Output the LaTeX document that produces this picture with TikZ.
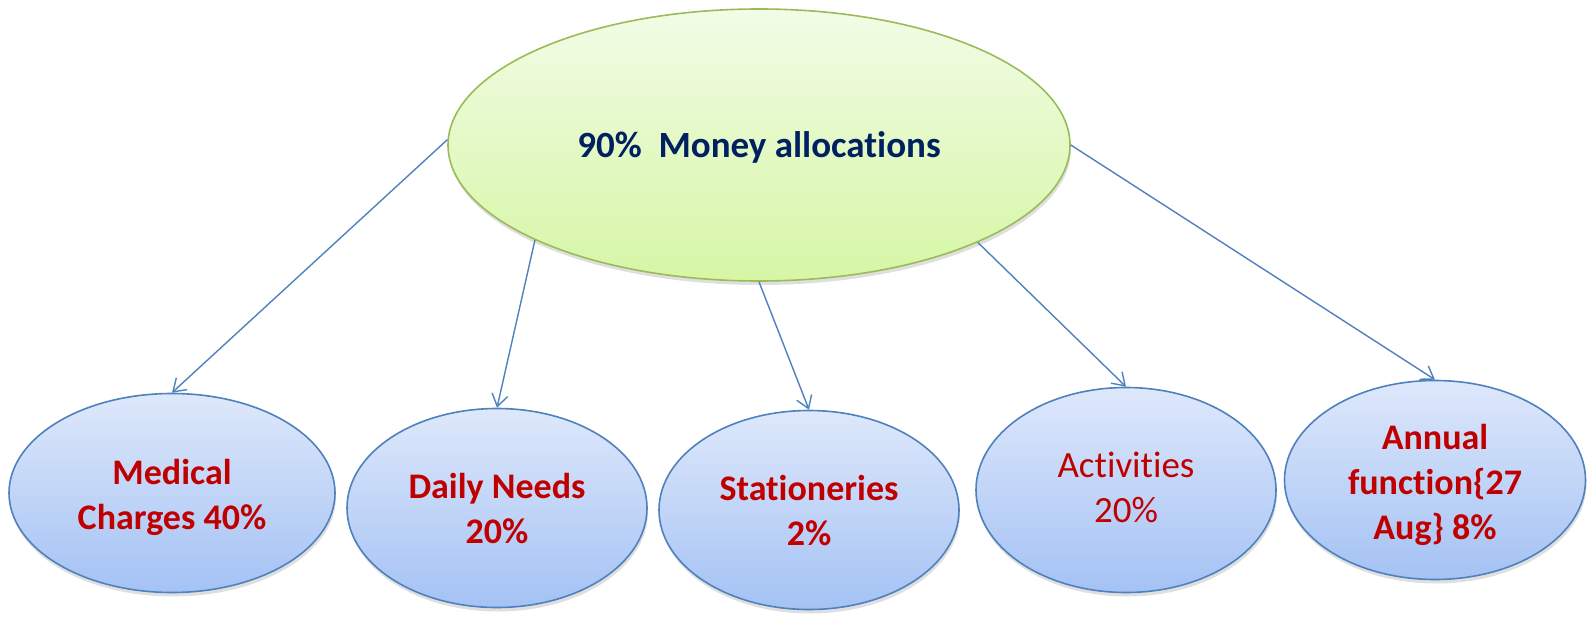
\documentclass[tikz,border=0pt]{standalone}
\usepackage{fontspec}
\setmainfont{Carlito}[Ligatures=NoCommon]
\usetikzlibrary{shapes.geometric,arrows.meta,shadows}
\definecolor{topfillA}{RGB}{242,252,230}
\definecolor{topfillB}{RGB}{214,246,165}
\definecolor{topline}{RGB}{155,187,89}
\definecolor{botfillA}{RGB}{222,232,251}
\definecolor{botfillB}{RGB}{164,194,244}
\definecolor{botline}{RGB}{79,129,189}
\definecolor{navytext}{RGB}{0,32,96}
\definecolor{redtext}{RGB}{192,0,0}
\newcommand\lowtxt[2][4pt]{\raisebox{-#1}[\height][\depth]{\begin{tabular}{@{}c@{}}#2\end{tabular}}}
\tikzset{
  topnode/.style={ellipse, draw=topline, line width=1.6pt, top color=topfillA, bottom color=topfillB,
    minimum width=622pt, minimum height=272pt, inner sep=0pt,
    drop shadow={shadow xshift=1pt, shadow yshift=-4pt, opacity=0.25},
    text=navytext, font=\fontsize{37}{45}\selectfont\bfseries},
  leaf/.style={ellipse, draw=botline, line width=1.6pt, top color=botfillA, bottom color=botfillB,
    inner sep=0pt,
    drop shadow={shadow xshift=1pt, shadow yshift=-4pt, opacity=0.25},
    text=redtext, font=\fontsize{36}{45}\selectfont\bfseries},
  conn/.style={draw=botline, line width=1.4pt, -{Straight Barb[length=12pt,width=16pt,line width=1.4pt]}}
}
\begin{document}
\begin{tikzpicture}[x=1pt,y=-1pt]
\useasboundingbox (0,0) rectangle (1593,618);
\node[topnode] (top) at (759,145) {\lowtxt[3pt]{90\%\ \ Money allocations}};
\node[leaf, minimum width=326pt, minimum height=199pt] (med) at (172,493) {\lowtxt[5pt]{Medical\\Charges 40\%}};
\node[leaf, minimum width=300pt, minimum height=199pt] (daily) at (497,508) {\lowtxt{Daily Needs\\20\%}};
\node[leaf, minimum width=300pt, minimum height=199pt] (stat) at (809,510) {\lowtxt{Stationeries\\2\%}};
\node[leaf, minimum width=300pt, minimum height=205pt, font=\fontsize{37}{45}\selectfont] (act) at (1126,490) {\lowtxt[1pt]{Activities\\20\%}};
\node[leaf, minimum width=301pt, minimum height=199pt] (ann) at (1435,480) {\lowtxt[5pt]{Annual\\function\{27\\Aug\} 8\%}};
\draw[conn] (top.179) -- (med.north);
\draw[conn] (top.203) -- (daily.north);
\draw[conn] (top.270) -- (stat.north);
\draw[conn] (top.336) -- (act.north);
\draw[conn] (top.0) -- (ann.north);
\end{tikzpicture}
\end{document}
